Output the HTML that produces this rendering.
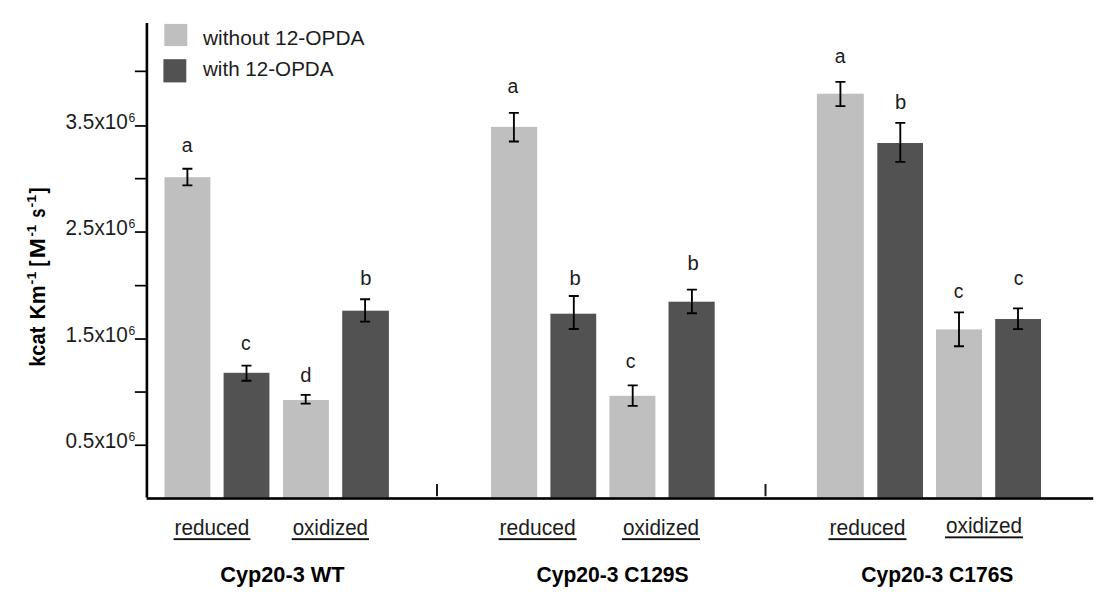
<!DOCTYPE html>
<html lang="en">
<head>
<meta charset="utf-8">
<title>Cyp20-3 kcat/Km bar chart</title>
<style>
html,body{margin:0;padding:0;background:#fff;}
body{width:1112px;height:610px;overflow:hidden;}
svg{display:block;}
text{font-family:"Liberation Sans", sans-serif;fill:#1c1c1c;}
.b{font-weight:bold;fill:#000;}
</style>
</head>
<body>
<svg width="1112" height="610" viewBox="0 0 1112 610">
<rect x="0" y="0" width="1112" height="610" fill="#ffffff"/>
<rect x="164.3" y="23.9" width="23" height="22.2" fill="#bfbfbf"/>
<rect x="163.4" y="59.2" width="22.9" height="23.2" fill="#525252"/>
<text x="203" y="44.8" font-size="20.5" textLength="161.5" lengthAdjust="spacingAndGlyphs">without 12-OPDA</text>
<text x="203" y="76.3" font-size="20.5" textLength="130.5" lengthAdjust="spacingAndGlyphs">with 12-OPDA</text>
<rect x="164.5" y="177.2" width="45.9" height="320.5" fill="#bfbfbf"/>
<rect x="223.6" y="372.8" width="45.8" height="124.9" fill="#525252"/>
<rect x="283.0" y="400.0" width="45.9" height="97.7" fill="#bfbfbf"/>
<rect x="342.2" y="310.7" width="46.7" height="187.0" fill="#525252"/>
<rect x="491.0" y="126.9" width="46.2" height="370.8" fill="#bfbfbf"/>
<rect x="550.4" y="313.7" width="45.8" height="184.0" fill="#525252"/>
<rect x="609.4" y="395.8" width="46.0" height="101.9" fill="#bfbfbf"/>
<rect x="668.5" y="301.7" width="46.2" height="196.0" fill="#525252"/>
<rect x="816.9" y="93.7" width="46.9" height="404.0" fill="#bfbfbf"/>
<rect x="877.3" y="143.0" width="45.7" height="354.7" fill="#525252"/>
<rect x="936.0" y="329.4" width="46.0" height="168.3" fill="#bfbfbf"/>
<rect x="995.2" y="319.0" width="45.8" height="178.7" fill="#525252"/>
<path d="M182.4 168.7H192.4M182.4 185.3H192.4M187.4 168.7V185.3" stroke="#000" stroke-width="1.85" fill="none"/>
<path d="M241.5 365.6H251.5M241.5 380.7H251.5M246.5 365.6V380.7" stroke="#000" stroke-width="1.85" fill="none"/>
<path d="M300.7 394.9H310.7M300.7 403.6H310.7M305.7 394.9V403.6" stroke="#000" stroke-width="1.85" fill="none"/>
<path d="M360.1 299.2H370.1M360.1 321.6H370.1M365.1 299.2V321.6" stroke="#000" stroke-width="1.85" fill="none"/>
<path d="M508.9 112.8H518.9M508.9 141.5H518.9M513.9 112.8V141.5" stroke="#000" stroke-width="1.85" fill="none"/>
<path d="M568.8 296.0H578.8M568.8 329.0H578.8M573.8 296.0V329.0" stroke="#000" stroke-width="1.85" fill="none"/>
<path d="M627.7 385.4H637.7M627.7 405.8H637.7M632.7 385.4V405.8" stroke="#000" stroke-width="1.85" fill="none"/>
<path d="M686.9 289.6H696.9M686.9 313.2H696.9M691.9 289.6V313.2" stroke="#000" stroke-width="1.85" fill="none"/>
<path d="M835.4 81.9H845.4M835.4 106.1H845.4M840.4 81.9V106.1" stroke="#000" stroke-width="1.85" fill="none"/>
<path d="M895.3 122.9H905.3M895.3 161.9H905.3M900.3 122.9V161.9" stroke="#000" stroke-width="1.85" fill="none"/>
<path d="M954.0 312.3H964.0M954.0 346.2H964.0M959.0 312.3V346.2" stroke="#000" stroke-width="1.85" fill="none"/>
<path d="M1013.0 308.4H1023.0M1013.0 329.1H1023.0M1018.0 308.4V329.1" stroke="#000" stroke-width="1.85" fill="none"/>
<text x="187.1" y="151.6" font-size="19.4" text-anchor="middle">a</text>
<text x="245.9" y="349.5" font-size="19.4" text-anchor="middle">c</text>
<text x="305.9" y="382.3" font-size="20.2" text-anchor="middle">d</text>
<text x="365.9" y="284.9" font-size="20.2" text-anchor="middle">b</text>
<text x="512.8" y="92.5" font-size="19.4" text-anchor="middle">a</text>
<text x="575.1" y="285.1" font-size="20.2" text-anchor="middle">b</text>
<text x="630.7" y="367.7" font-size="19.4" text-anchor="middle">c</text>
<text x="693.1" y="270.4" font-size="20.2" text-anchor="middle">b</text>
<text x="840.2" y="63.3" font-size="19.4" text-anchor="middle">a</text>
<text x="900.6" y="109.0" font-size="20.2" text-anchor="middle">b</text>
<text x="958.7" y="298.4" font-size="19.4" text-anchor="middle">c</text>
<text x="1018.6" y="285.1" font-size="19.4" text-anchor="middle">c</text>
<rect x="145.6" y="23" width="2.6" height="474.6" fill="#000"/>
<rect x="146.6" y="497.2" width="946.6" height="2.6" fill="#000"/>
<rect x="134.9" y="70.5" width="11.5" height="1.7" fill="#000"/>
<rect x="134.9" y="125.1" width="11.5" height="1.7" fill="#000"/>
<rect x="134.9" y="177.8" width="11.5" height="1.7" fill="#000"/>
<rect x="134.9" y="231.2" width="11.5" height="1.7" fill="#000"/>
<rect x="134.9" y="284.8" width="11.5" height="1.7" fill="#000"/>
<rect x="134.9" y="338.2" width="11.5" height="1.7" fill="#000"/>
<rect x="134.9" y="391.2" width="11.5" height="1.7" fill="#000"/>
<rect x="134.9" y="444.4" width="11.5" height="1.7" fill="#000"/>
<rect x="436.0" y="484" width="2" height="12.2" fill="#1a1a1a"/>
<rect x="764.5" y="484" width="2" height="12.2" fill="#1a1a1a"/>
<text x="65.6" y="128.6" font-size="21.2" textLength="62.2" lengthAdjust="spacingAndGlyphs">3.5x10</text>
<text x="128.4" y="121.6" font-size="12.2">6</text>
<text x="65.6" y="234.7" font-size="21.2" textLength="62.2" lengthAdjust="spacingAndGlyphs">2.5x10</text>
<text x="128.4" y="227.7" font-size="12.2">6</text>
<text x="65.6" y="341.7" font-size="21.2" textLength="62.2" lengthAdjust="spacingAndGlyphs">1.5x10</text>
<text x="128.4" y="334.7" font-size="12.2">6</text>
<text x="65.6" y="447.9" font-size="21.2" textLength="62.2" lengthAdjust="spacingAndGlyphs">0.5x10</text>
<text x="128.4" y="440.9" font-size="12.2">6</text>
<text class="b" transform="translate(45.3 366.8) rotate(-90)" font-size="22.3" textLength="40.2" lengthAdjust="spacingAndGlyphs">kcat</text>
<text class="b" transform="translate(45.3 319.6) rotate(-90)" font-size="22.3" textLength="34.2" lengthAdjust="spacingAndGlyphs">Km</text>
<text class="b" transform="translate(35.8 284.4) rotate(-90)" font-size="13.6" textLength="12.8" lengthAdjust="spacingAndGlyphs">-1</text>
<text class="b" transform="translate(45.3 266.4) rotate(-90)" font-size="22.3" textLength="6.0" lengthAdjust="spacingAndGlyphs">[</text>
<text class="b" transform="translate(45.3 258.3) rotate(-90)" font-size="22.3" textLength="20.1" lengthAdjust="spacingAndGlyphs">M</text>
<text class="b" transform="translate(35.8 236.6) rotate(-90)" font-size="13.6" textLength="11.8" lengthAdjust="spacingAndGlyphs">-1</text>
<text class="b" transform="translate(45.3 217.8) rotate(-90)" font-size="22.3" textLength="9.2" lengthAdjust="spacingAndGlyphs">s</text>
<text class="b" transform="translate(35.8 207.6) rotate(-90)" font-size="13.6" textLength="12.8" lengthAdjust="spacingAndGlyphs">-1</text>
<text class="b" transform="translate(45.3 193.6) rotate(-90)" font-size="22.3" textLength="5.9" lengthAdjust="spacingAndGlyphs">]</text>
<text x="174.6" y="534.6" font-size="21.4" textLength="74.8" lengthAdjust="spacingAndGlyphs">reduced</text>
<rect x="173.6" y="538.2" width="76.8" height="1.9" fill="#111"/>
<text x="292.7" y="534.6" font-size="21.4" textLength="75.3" lengthAdjust="spacingAndGlyphs">oxidized</text>
<rect x="291.7" y="538.2" width="77.3" height="1.9" fill="#111"/>
<text x="499.6" y="534.6" font-size="21.4" textLength="76.0" lengthAdjust="spacingAndGlyphs">reduced</text>
<rect x="498.6" y="538.2" width="78.0" height="1.9" fill="#111"/>
<text x="622.9" y="534.6" font-size="21.4" textLength="76.1" lengthAdjust="spacingAndGlyphs">oxidized</text>
<rect x="621.9" y="538.2" width="78.1" height="1.9" fill="#111"/>
<text x="829.5" y="534.6" font-size="21.4" textLength="76.0" lengthAdjust="spacingAndGlyphs">reduced</text>
<rect x="828.5" y="538.2" width="78.0" height="1.9" fill="#111"/>
<text x="946.0" y="532.5" font-size="21.4" textLength="76.0" lengthAdjust="spacingAndGlyphs">oxidized</text>
<rect x="945.0" y="536.4" width="78.0" height="1.9" fill="#111"/>
<text class="b" x="220.2" y="582.4" font-size="21.9" textLength="124.4" lengthAdjust="spacingAndGlyphs">Cyp20-3 WT</text>
<text class="b" x="536.5" y="582.4" font-size="21.9" textLength="152.1" lengthAdjust="spacingAndGlyphs">Cyp20-3 C129S</text>
<text class="b" x="861.3" y="582.4" font-size="21.9" textLength="152.1" lengthAdjust="spacingAndGlyphs">Cyp20-3 C176S</text>
</svg>
</body>
</html>
